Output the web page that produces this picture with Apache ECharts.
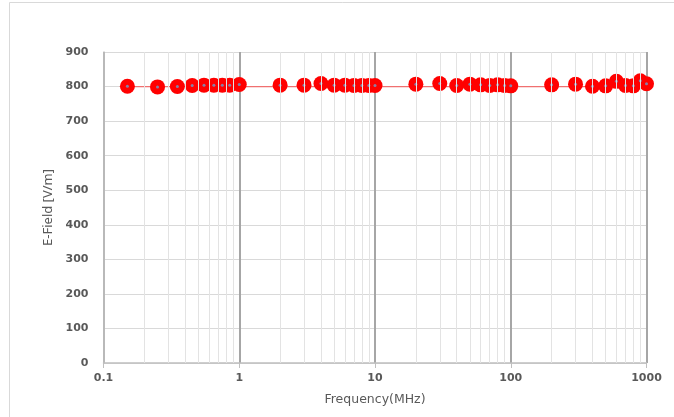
<!DOCTYPE html>
<html><head><meta charset="utf-8">
<script src="https://cdn.jsdelivr.net/npm/echarts@6/dist/echarts.min.js"></script>
<style>html,body{margin:0;padding:0;background:#fff}#c{width:674px;height:417px}</style>
</head><body><div id="c"></div>
<script>
const freqs = [0.15,0.25,0.35,0.45,0.55,0.65,0.75,0.85,1,
  2,3,4,5,6,7,8,9,10,
  20,30,40,50,60,70,80,90,100,
  200,300,400,500,600,700,800,900,1000];
const efield = [801,799,800,803,804,804,804,804,806,
  804,804,809,804,804,803,803,803,803,
  807,809,803,807,805,803,805,803,802,
  805,807,801,802,815,803,802,817,808];
const targetX = [0.15, 1000];
const targetY = [800, 800];
const minorGrid = [0.2,0.3,0.4,0.5,0.6,0.7,0.8,0.9,2,3,4,5,6,7,8,9,20,30,40,50,60,70,80,90,200,300,400,500,600,700,800,900];
const yTicks = {min:0, max:900, interval:100};

const pts = freqs.map((f,i)=>[f, efield[i]]);
const font = 'DejaVu Sans';
const chart = echarts.init(document.getElementById('c'), null, {renderer:'canvas'});
chart.setOption({
  animation:false,
  backgroundColor:'#fff',
  graphic:[{type:'rect', shape:{x:9.5,y:2.5,width:700,height:430}, style:{fill:'none', stroke:'#d9d9d9', lineWidth:1}, z:-10}],
  grid:{left:103.5, right:27.5, top:52, bottom:54},
  xAxis:{type:'log', logBase:10, min:0.1, max:1000,
    name:'Frequency(MHz)', nameLocation:'middle', nameGap:30,
    nameTextStyle:{fontFamily:font, fontSize:12.5, color:'#595959'},
    axisLine:{show:true, lineStyle:{color:'#bfbfbf', width:1.5}},
    axisTick:{show:true, length:5, lineStyle:{color:'#bfbfbf'}},
    axisLabel:{fontFamily:font, fontSize:11, fontWeight:'bold', color:'#595959', margin:10,
      formatter:v=>String(v)},
    splitLine:{show:true, lineStyle:{color:'#a6a6a6', width:2}}
  },
  yAxis:{type:'value', min:yTicks.min, max:yTicks.max, interval:yTicks.interval,
    name:'E-Field [V/m]', nameLocation:'middle', nameGap:40,
    nameTextStyle:{fontFamily:'Noto Sans', fontSize:13, color:'#595959'},
    axisLine:{show:true, lineStyle:{color:'#bfbfbf', width:1.5}},
    axisTick:{show:false},
    axisLabel:{fontFamily:font, fontSize:11, fontWeight:'bold', color:'#595959', margin:15},
    splitLine:{show:true, lineStyle:{color:'#d9d9d9', width:1}}
  },
  series:[
    {type:'line', data:[], silent:true,
      markLine:{silent:true, symbol:'none', label:{show:false},
        lineStyle:{color:'#e3e3e3', width:1, type:'solid'},
        data:minorGrid.map(v=>({xAxis:v}))}, z:1},
    {type:'line', data:targetX.map((x,i)=>[x,targetY[i]]), showSymbol:false, silent:true,
      lineStyle:{color:'#f07070', width:1.2}, z:2},
    {type:'scatter', data:pts, symbol:'circle', symbolSize:15,
      itemStyle:{color:'#ff0000', opacity:1}, z:3},
    {type:'scatter', data:pts, symbol:'circle', symbolSize:3,
      itemStyle:{color:'#8a7fa5', opacity:1}, z:4, silent:true}
  ]
});
</script></body></html>
